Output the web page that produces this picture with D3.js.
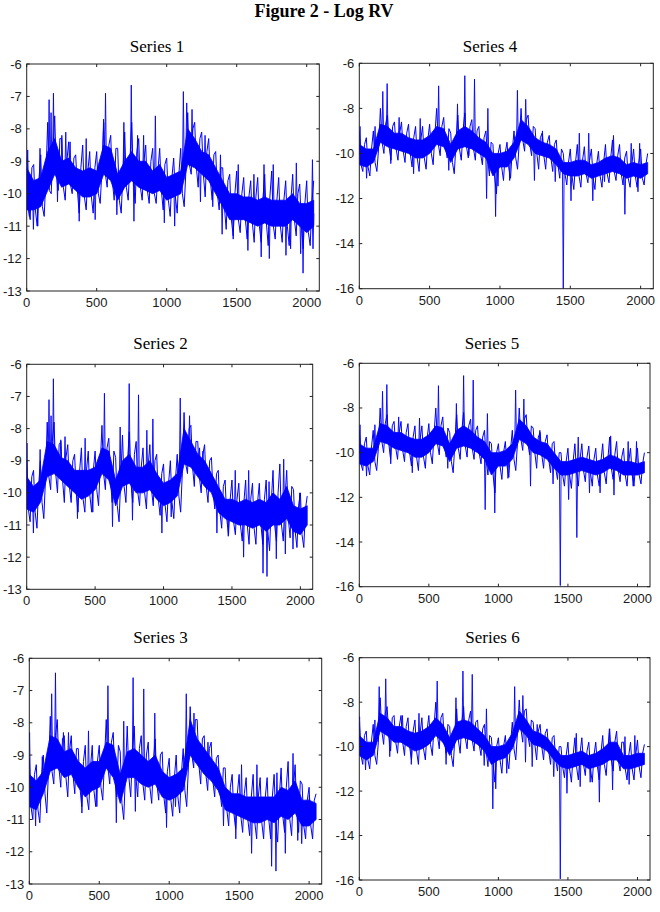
<!DOCTYPE html>
<html>
<head>
<meta charset="utf-8">
<script src="https://cdn.jsdelivr.net/npm/d3@7"></script>
<style>
  html, body { margin: 0; padding: 0; background: #fff; }
  svg { display: block; }
</style>
</head>
<body>
<svg id="chart" width="660" height="912"></svg>
<script>
// ---------------- DATA ----------------
const figureTitle = "Figure 2 - Log RV";
const seriesNames = ["Series 1", "Series 2", "Series 3", "Series 4", "Series 5", "Series 6"];
const xTicks = [0, 500, 1000, 1500, 2000];
const yTicksA = [-13, -12, -11, -10, -9, -8, -7, -6];
const yTicksB = [-16, -14, -12, -10, -8, -6];
// time positions of the band readings
const coreT = [0,50,100,150,200,250,300,350,400,450,500,550,600,650,700,750,800,850,900,950,
               1000,1050,1100,1150,1200,1250,1300,1350,1400,1450,1500,1550,1600,1650,1700,1750,
               1800,1850,1900,1950,2000,2050];

// Series 1 : dense core (lo/hi), fringe of frequent moves (up/dn), isolated spikes
const s1Lo = [-10.5,-10.5,-10.4,-9.9,-9.4,-9.8,-9.7,-9.9,-10.1,-10.1,-10.0,-9.4,-9.6,-10.2,-9.8,-9.6,-9.8,-9.9,-10.0,-9.9,
              -10.2,-10.1,-10.0,-9.1,-9.2,-9.4,-9.6,-10.0,-10.4,-10.8,-10.8,-10.8,-10.9,-11.0,-10.9,-11.0,-11.0,-11.0,-10.8,-11.0,-11.2,-11.0];
const s1Hi = [-9.2,-9.6,-9.5,-8.7,-8.3,-9.0,-8.9,-9.2,-9.3,-9.2,-9.3,-8.5,-8.6,-9.4,-9.0,-8.7,-9.0,-9.0,-9.3,-9.1,
              -9.5,-9.4,-9.3,-8.0,-8.3,-8.7,-8.8,-9.2,-9.6,-10.0,-10.0,-10.1,-10.1,-10.2,-10.1,-10.2,-10.2,-10.2,-10.0,-10.3,-10.3,-10.2];
const s1Up = [-8.9,-9.1,-8.8,-7.8,-7.6,-8.3,-8.4,-8.8,-8.5,-8.7,-8.7,-7.8,-8.2,-8.6,-8.1,-7.8,-8.3,-8.5,-8.6,-8.6,
              -8.9,-8.9,-8.6,-7.5,-7.8,-8.1,-8.3,-8.7,-9.2,-9.4,-9.3,-9.5,-9.6,-9.5,-9.4,-9.3,-9.5,-9.6,-9.4,-9.7,-9.6,-9.6];
const s1Dn = [-10.8,-11.0,-10.7,-10.0,-9.9,-10.2,-10.0,-10.6,-10.5,-10.6,-10.3,-9.8,-10.2,-10.6,-10.2,-10.3,-10.2,-10.3,-10.3,-10.5,
              -10.7,-10.6,-10.4,-9.4,-9.8,-10.1,-10.2,-10.5,-11.1,-11.3,-11.2,-11.4,-11.5,-11.5,-11.6,-11.4,-11.5,-11.6,-11.3,-11.7,-11.6,-11.4];
const s1Spikes = [[7,-8.65],[19,-10.7],[48,-11.1],[79,-11.0],[95,-8.6],[160,-7.1],[174,-7.5],[191,-6.9],[220,-10.25],[251,-8.2],
  [279,-8.1],[310,-8.4],[375,-10.85],[425,-8.3],[489,-10.8],[549,-7.7],[563,-6.9],[644,-10.65],[694,-7.8],[747,-6.65],
  [766,-10.85],[792,-8.2],[835,-8.2],[919,-7.6],[983,-10.9],[1057,-11.0],[1119,-6.85],[1143,-7.2],[1181,-7.4],[1241,-10.25],
  [1274,-8.2],[1329,-10.4],[1384,-8.8],[1396,-11.25],[1475,-11.4],[1511,-9.1],[1580,-11.75],[1623,-9.4],[1675,-11.95],[1695,-9.1],
  [1733,-12.0],[1761,-9.1],[1852,-11.9],[1885,-11.7],[1926,-9.05],[1957,-11.85],[1974,-12.45],[2041,-8.95],[2045,-11.7]];

// Series 2
const s2Lo = [-10.5,-10.6,-10.3,-9.5,-9.4,-9.6,-9.8,-10.0,-10.2,-10.1,-9.9,-9.4,-9.6,-10.4,-9.8,-9.7,-10.0,-10.0,-9.9,-10.2,
              -10.4,-10.3,-10.1,-9.1,-9.2,-9.5,-9.8,-10.0,-10.6,-10.8,-10.9,-11.0,-11.0,-11.1,-11.0,-11.2,-11.0,-11.0,-10.8,-11.2,-11.3,-11.0];
const s2Hi = [-9.5,-9.8,-9.6,-8.4,-8.5,-8.9,-9.0,-9.3,-9.3,-9.3,-9.2,-8.6,-8.7,-9.6,-9.0,-8.8,-9.2,-9.2,-9.0,-9.4,
              -9.7,-9.6,-9.4,-8.0,-8.4,-8.8,-9.0,-9.4,-9.8,-10.2,-10.2,-10.3,-10.2,-10.3,-10.2,-10.3,-10.0,-10.2,-9.8,-10.4,-10.5,-10.4];
const s2Up = [-9.0,-9.3,-9.0,-7.8,-7.8,-8.4,-8.5,-8.8,-8.6,-8.7,-8.7,-7.9,-8.3,-8.9,-8.2,-8.1,-8.4,-8.6,-8.5,-8.8,
              -9.1,-9.0,-8.8,-7.5,-7.9,-8.4,-8.5,-8.9,-9.3,-9.6,-9.6,-9.7,-9.6,-9.7,-9.7,-9.6,-9.3,-9.1,-9.3,-9.9,-10.0,-10.1];
const s2Dn = [-10.9,-11.1,-10.8,-9.9,-10.0,-10.3,-10.3,-10.6,-10.6,-10.6,-10.4,-9.9,-10.3,-10.9,-10.3,-10.3,-10.4,-10.5,-10.4,-10.7,
              -10.9,-10.8,-10.6,-9.4,-9.8,-10.0,-10.3,-10.5,-11.1,-11.3,-11.3,-11.5,-11.6,-11.6,-11.6,-11.8,-11.5,-11.5,-11.4,-11.7,-11.7,-11.3];
const s2Spikes = [[2,-8.45],[49,-11.25],[98,-8.65],[163,-7.1],[178,-7.6],[195,-6.45],[249,-8.35],[280,-8.25],[371,-10.8],[427,-8.3],
  [483,-10.6],[568,-6.9],[627,-11.05],[683,-7.95],[749,-6.6],[773,-10.85],[817,-6.95],[878,-8.05],[922,-7.7],[988,-11.25],
  [1056,-10.75],[1122,-7.05],[1190,-7.6],[1263,-8.6],[1288,-8.7],[1390,-11.25],[1473,-11.35],[1524,-9.3],[1585,-12.0],[1622,-9.3],
  [1727,-12.5],[1756,-12.6],[1771,-9.65],[1824,-12.05],[1878,-8.95],[1890,-11.9],[1946,-11.75],[1995,-10.0]];

// Series 3
const s3Lo = [-10.6,-10.7,-10.2,-9.5,-9.4,-9.7,-9.6,-10.0,-10.3,-10.1,-10.0,-9.4,-9.7,-10.5,-9.7,-9.7,-9.9,-10.0,-9.9,-10.3,
              -10.4,-10.3,-10.1,-9.0,-9.3,-9.6,-9.8,-10.1,-10.7,-10.8,-10.9,-11.0,-11.1,-11.1,-11.0,-11.1,-10.9,-11.0,-10.8,-11.2,-11.2,-11.0];
const s3Hi = [-9.6,-9.8,-9.5,-8.4,-8.5,-8.9,-8.8,-9.2,-9.4,-9.2,-9.2,-8.6,-8.7,-9.6,-8.9,-8.8,-9.0,-9.2,-9.0,-9.5,
              -9.7,-9.6,-9.4,-7.9,-8.5,-8.8,-9.1,-9.4,-10.0,-10.2,-10.2,-10.3,-10.3,-10.3,-10.3,-10.3,-10.0,-10.1,-9.8,-10.4,-10.4,-10.5];
const s3Up = [-9.1,-9.3,-9.0,-7.8,-7.9,-8.4,-8.4,-8.8,-8.7,-8.7,-8.7,-7.9,-8.3,-8.9,-8.1,-8.1,-8.4,-8.6,-8.5,-8.9,
              -9.1,-9.0,-8.8,-7.5,-7.9,-8.4,-8.6,-9.0,-9.4,-9.6,-9.6,-9.7,-9.6,-9.7,-9.7,-9.6,-9.4,-9.2,-9.3,-9.9,-10.0,-10.2];
const s3Dn = [-11.0,-11.1,-10.8,-9.9,-10.0,-10.3,-10.2,-10.6,-10.7,-10.6,-10.4,-9.9,-10.3,-11.0,-10.3,-10.3,-10.4,-10.5,-10.4,-10.8,
              -10.9,-10.8,-10.6,-9.4,-9.9,-10.1,-10.3,-10.6,-11.2,-11.3,-11.4,-11.5,-11.6,-11.6,-11.6,-11.7,-11.4,-11.5,-11.4,-11.6,-11.6,-11.3];
const s3Spikes = [[2,-8.3],[45,-11.2],[93,-9.05],[160,-7.1],[187,-6.45],[244,-8.3],[280,-8.3],[376,-10.8],[423,-8.25],[483,-10.6],
  [562,-6.85],[622,-11.1],[675,-7.95],[742,-6.6],[758,-10.75],[818,-6.95],[897,-7.7],[981,-11.25],[1045,-10.6],[1122,-7.1],
  [1177,-7.7],[1277,-8.6],[1388,-11.2],[1476,-11.6],[1517,-9.3],[1589,-12.05],[1627,-9.3],[1732,-12.45],[1763,-12.6],[1770,-9.55],
  [1830,-12.05],[1885,-8.95],[1919,-11.65],[1947,-11.75],[2002,-10.25]];

// Series 4
const s4Lo = [-10.5,-10.6,-10.4,-9.5,-9.7,-9.8,-9.9,-10.0,-10.2,-10.2,-10.0,-9.6,-9.7,-10.4,-9.8,-9.7,-9.8,-10.0,-10.2,-11.0,
              -10.6,-10.6,-10.2,-9.4,-9.6,-10.0,-10.1,-10.2,-10.5,-10.9,-11.0,-11.0,-10.9,-11.1,-11.0,-10.9,-10.8,-10.9,-11.1,-11.0,-11.1,-10.9];
const s4Hi = [-9.6,-9.8,-9.8,-8.7,-8.8,-9.1,-9.1,-9.3,-9.4,-9.4,-9.2,-8.8,-8.9,-9.6,-9.0,-8.8,-9.0,-9.3,-9.5,-10.0,
              -10.0,-9.9,-9.5,-8.5,-8.8,-9.3,-9.5,-9.6,-9.8,-10.4,-10.4,-10.3,-10.3,-10.5,-10.4,-10.2,-10.1,-10.2,-10.5,-10.4,-10.5,-10.4];
const s4Up = [-9.0,-9.3,-9.0,-8.0,-8.3,-8.6,-8.6,-8.7,-8.8,-8.8,-8.7,-8.0,-8.4,-9.1,-8.3,-8.2,-8.5,-8.8,-9.0,-9.6,
              -9.6,-9.5,-9.0,-8.0,-8.3,-8.9,-9.1,-9.2,-9.4,-10.0,-9.8,-9.6,-9.7,-9.8,-9.9,-9.6,-9.4,-9.6,-9.9,-9.8,-9.8,-10.0];
const s4Dn = [-10.8,-11.0,-10.8,-10.0,-10.3,-10.3,-10.4,-10.6,-10.8,-10.7,-10.5,-10.1,-10.2,-10.9,-10.3,-10.2,-10.3,-10.5,-11.0,-11.8,
              -11.2,-11.1,-10.7,-9.9,-10.1,-10.7,-10.7,-10.8,-11.1,-11.4,-11.6,-11.5,-11.3,-11.6,-11.5,-11.3,-11.2,-11.4,-11.5,-11.5,-11.4,-11.1];
const s4Spikes = [[5,-8.8],[52,-11.1],[112,-8.8],[167,-7.25],[198,-6.9],[224,-10.45],[283,-8.4],[386,-10.9],[433,-8.45],[564,-7.0],
  [636,-10.75],[698,-7.8],[750,-6.55],[779,-10.1],[819,-6.7],[905,-12.0],[914,-8.0],[969,-12.8],[986,-11.45],[1069,-11.2],
  [1124,-7.2],[1183,-7.6],[1231,-9.2],[1245,-11.2],[1302,-9.0],[1393,-11.25],[1450,-16.0],[1505,-12.1],[1564,-9.1],[1631,-9.1],
  [1660,-12.1],[1743,-11.25],[1807,-9.2],[1888,-12.7],[1933,-9.55],[1981,-11.7],[1993,-9.55]];

// Series 5
const s5Lo = [-10.5,-10.6,-10.4,-9.5,-9.6,-9.8,-9.9,-10.0,-10.2,-10.2,-10.0,-9.6,-9.7,-10.4,-9.8,-9.7,-9.8,-10.0,-10.3,-11.0,
              -10.6,-10.6,-10.3,-9.4,-9.6,-10.0,-10.1,-10.3,-10.7,-11.0,-11.0,-10.9,-10.8,-10.9,-11.0,-10.9,-10.7,-10.8,-11.0,-11.0,-11.0,-10.9];
const s5Hi = [-9.6,-9.8,-9.8,-8.7,-8.8,-9.1,-9.1,-9.3,-9.4,-9.4,-9.2,-8.8,-8.9,-9.6,-9.0,-8.8,-9.0,-9.3,-9.5,-10.0,
              -10.0,-9.9,-9.6,-8.5,-8.8,-9.3,-9.5,-9.6,-10.0,-10.4,-10.4,-10.3,-10.2,-10.3,-10.4,-10.3,-10.1,-10.2,-10.4,-10.4,-10.5,-10.4];
const s5Up = [-9.0,-9.3,-9.0,-8.0,-8.3,-8.6,-8.6,-8.7,-8.8,-8.8,-8.7,-8.0,-8.4,-9.1,-8.3,-8.2,-8.5,-8.8,-9.0,-9.6,
              -9.6,-9.5,-9.0,-8.0,-8.3,-8.9,-9.1,-9.2,-9.5,-10.0,-9.8,-9.6,-9.6,-9.7,-9.8,-9.6,-9.3,-9.5,-9.8,-9.8,-9.8,-10.0];
const s5Dn = [-10.8,-11.0,-10.8,-10.0,-10.3,-10.3,-10.4,-10.6,-10.8,-10.7,-10.5,-10.1,-10.2,-10.9,-10.3,-10.2,-10.3,-10.5,-11.0,-11.8,
              -11.2,-11.1,-10.8,-9.9,-10.1,-10.7,-10.7,-10.9,-11.2,-11.5,-11.6,-11.5,-11.3,-11.5,-11.5,-11.4,-11.2,-11.3,-11.5,-11.5,-11.4,-11.1];
const s5Spikes = [[5,-8.75],[52,-11.05],[112,-8.75],[167,-7.25],[198,-6.95],[226,-10.5],[283,-8.4],[381,-10.9],[433,-8.45],[569,-7.0],
  [636,-10.7],[698,-7.8],[750,-6.55],[819,-6.75],[905,-12.55],[921,-8.25],[974,-12.7],[1069,-11.15],[1124,-7.2],[1183,-7.6],
  [1231,-11.5],[1298,-9.0],[1393,-11.4],[1445,-15.95],[1505,-12.1],[1564,-13.8],[1574,-9.3],[1655,-11.8],[1731,-11.8],[1807,-9.25],
  [1831,-11.9],[1933,-9.5],[1969,-11.5],[1993,-9.5]];

// Series 6
const s6Lo = [-10.4,-10.6,-10.4,-9.3,-9.5,-9.8,-9.8,-10.0,-10.2,-10.1,-9.9,-9.5,-9.8,-10.4,-9.7,-9.6,-9.7,-9.9,-10.2,-10.8,
              -10.6,-10.5,-10.1,-9.2,-9.5,-9.9,-10.0,-10.2,-10.6,-10.9,-11.0,-10.9,-10.8,-11.0,-10.9,-10.8,-10.6,-10.6,-11.0,-11.0,-10.9,-10.8];
const s6Hi = [-9.5,-9.8,-9.8,-8.5,-8.7,-9.1,-9.1,-9.3,-9.4,-9.3,-9.1,-8.7,-9.0,-9.6,-8.9,-8.8,-8.9,-9.2,-9.5,-10.0,
              -10.0,-9.9,-9.4,-8.4,-8.8,-9.3,-9.4,-9.6,-10.0,-10.4,-10.4,-10.3,-10.2,-10.4,-10.3,-10.1,-9.8,-9.8,-10.4,-10.4,-10.3,-10.3];
const s6Up = [-8.9,-9.3,-9.0,-7.8,-8.2,-8.6,-8.6,-8.7,-8.8,-8.7,-8.6,-8.0,-8.5,-9.1,-8.3,-8.2,-8.4,-8.8,-9.0,-9.6,
              -9.6,-9.5,-8.9,-7.9,-8.3,-8.9,-9.0,-9.2,-9.5,-10.0,-9.8,-9.6,-9.6,-9.8,-9.8,-9.5,-9.2,-9.3,-9.8,-9.8,-9.7,-9.9];
const s6Dn = [-10.8,-11.0,-10.8,-9.9,-10.2,-10.3,-10.4,-10.6,-10.8,-10.6,-10.4,-10.1,-10.3,-10.9,-10.3,-10.1,-10.2,-10.4,-10.9,-11.6,
              -11.2,-11.0,-10.6,-9.8,-10.0,-10.6,-10.6,-10.8,-11.1,-11.4,-11.6,-11.5,-11.3,-11.6,-11.5,-11.3,-11.1,-11.1,-11.5,-11.5,-11.4,-11.1];
const s6Spikes = [[2,-8.65],[45,-11.05],[112,-8.8],[143,-7.3],[190,-6.95],[219,-10.45],[310,-8.6],[374,-10.8],[429,-8.5],[560,-7.05],
  [624,-10.8],[695,-7.8],[745,-6.6],[812,-6.75],[898,-10.85],[914,-8.3],[960,-12.8],[981,-11.9],[1060,-11.2],[1117,-7.3],
  [1176,-7.7],[1195,-10.7],[1243,-10.9],[1279,-9.0],[1398,-11.35],[1445,-15.95],[1493,-12.1],[1560,-9.4],[1588,-11.8],[1660,-11.6],
  [1726,-12.5],[1798,-9.2],[1821,-11.95],[1910,-9.55],[1940,-11.7],[1981,-9.5]];

// ---------------- LAYOUT ----------------
const panels = [
  {name: seriesNames[0], lo: s1Lo, hi: s1Hi, up: s1Up, dn: s1Dn, spikes: s1Spikes, yTicks: yTicksA, box: {x0: 26.7, x1: 319.3, y0: 64, y1: 291}, tx: 157, ty: 52},
  {name: seriesNames[1], lo: s2Lo, hi: s2Hi, up: s2Up, dn: s2Dn, spikes: s2Spikes, yTicks: yTicksA, box: {x0: 26.7, x1: 312.7, y0: 364.3, y1: 589.3}, tx: 160.5, ty: 349},
  {name: seriesNames[2], lo: s3Lo, hi: s3Hi, up: s3Up, dn: s3Dn, spikes: s3Spikes, yTicks: yTicksA, box: {x0: 29.3, x1: 321.7, y0: 658.3, y1: 884}, tx: 160.5, ty: 643},
  {name: seriesNames[3], lo: s4Lo, hi: s4Hi, up: s4Up, dn: s4Dn, spikes: s4Spikes, yTicks: yTicksB, box: {x0: 359.3, x1: 653.3, y0: 63.3, y1: 288.7}, tx: 490, ty: 52},
  {name: seriesNames[4], lo: s5Lo, hi: s5Hi, up: s5Up, dn: s5Dn, spikes: s5Spikes, yTicks: yTicksB, box: {x0: 359.3, x1: 650, y0: 363.3, y1: 586.7}, tx: 492, ty: 349},
  {name: seriesNames[5], lo: s6Lo, hi: s6Hi, up: s6Up, dn: s6Dn, spikes: s6Spikes, yTicks: yTicksB, box: {x0: 359.3, x1: 650, y0: 657.7, y1: 880}, tx: 492.5, ty: 643}
];

const svg = d3.select("#chart");
const BLUE = "#0000ff";

svg.append("text")
  .attr("x", 324).attr("y", 17)
  .attr("text-anchor", "middle")
  .style("font-family", "'Liberation Serif', 'Times New Roman', serif")
  .style("font-weight", "bold")
  .style("font-size", "18px")
  .attr("fill", "#000")
  .text(figureTitle);

panels.forEach((p, i) => {
  const b = p.box;
  const x = d3.scaleLinear().domain([0, 2090]).range([b.x0, b.x1]);
  const y = d3.scaleLinear().domain([p.yTicks[0], p.yTicks[p.yTicks.length - 1]]).range([b.y1, b.y0]);
  const g = svg.append("g");

  const clipId = "clip" + i;
  svg.append("clipPath").attr("id", clipId)
    .append("rect").attr("x", b.x0).attr("y", b.y0).attr("width", b.x1 - b.x0).attr("height", b.y1 - b.y0);

  const plot = g.append("g").attr("clip-path", `url(#${clipId})`);

  // fringe: line alternating between upper and lower extents of the frequent moves
  const fringe = [];
  coreT.forEach((t, k) => {
    fringe.push([t, p.up[k]]);
    fringe.push([t + 12, p.lo[k]]);
    fringe.push([t + 25, p.dn[k]]);
    fringe.push([t + 37, p.hi[k]]);
  });
  plot.append("path").datum(fringe.filter(d => d[0] <= 2060))
    .attr("d", d3.line().x(d => x(d[0])).y(d => y(d[1])))
    .attr("fill", "none").attr("stroke", BLUE).attr("stroke-width", 1);

  const core = coreT.map((t, k) => ({t, lo: p.lo[k], hi: p.hi[k]}));
  const area = d3.area().x(d => x(d.t)).y0(d => y(d.lo)).y1(d => y(d.hi));
  plot.append("path").datum(core).attr("d", area)
    .attr("fill", BLUE).attr("stroke", BLUE).attr("stroke-width", 0.8);

  const loAt = d3.scaleLinear().domain(coreT).range(p.lo);
  const hiAt = d3.scaleLinear().domain(coreT).range(p.hi);
  const midAt = t => (loAt(t) + hiAt(t)) / 2;
  plot.selectAll("path.spike").data(p.spikes).enter().append("path")
    .attr("class", "spike")
    .attr("d", d => {
      const m = y(midAt(d[0]));
      return `M${x(d[0] - 6)},${m}L${x(d[0])},${y(d[1])}L${x(d[0] + 6)},${m}`;
    })
    .attr("fill", "none")
    .attr("stroke", BLUE).attr("stroke-width", 0.9);

  // frame
  g.append("rect").attr("x", b.x0).attr("y", b.y0)
    .attr("width", b.x1 - b.x0).attr("height", b.y1 - b.y0)
    .attr("fill", "none").attr("stroke", "#222").attr("stroke-width", 1);

  const tl = 3;
  xTicks.forEach(v => {
    g.append("line").attr("x1", x(v)).attr("x2", x(v)).attr("y1", b.y1).attr("y2", b.y1 - tl).attr("stroke", "#222");
    g.append("line").attr("x1", x(v)).attr("x2", x(v)).attr("y1", b.y0).attr("y2", b.y0 + tl).attr("stroke", "#222");
    g.append("text").attr("x", x(v)).attr("y", b.y1 + 16)
      .attr("text-anchor", "middle")
      .style("font-family", "'Liberation Sans', Arial, sans-serif")
      .style("font-size", "13px").attr("fill", "#1a1a1a")
      .text(v);
  });
  p.yTicks.forEach(v => {
    g.append("line").attr("x1", b.x0).attr("x2", b.x0 + tl).attr("y1", y(v)).attr("y2", y(v)).attr("stroke", "#222");
    g.append("line").attr("x1", b.x1).attr("x2", b.x1 - tl).attr("y1", y(v)).attr("y2", y(v)).attr("stroke", "#222");
    g.append("text").attr("x", b.x0 - 5).attr("y", y(v))
      .attr("text-anchor", "end").attr("dominant-baseline", "central")
      .style("font-family", "'Liberation Sans', Arial, sans-serif")
      .style("font-size", "13px").attr("fill", "#1a1a1a")
      .text(v);
  });

  g.append("text").attr("x", p.tx).attr("y", p.ty)
    .attr("text-anchor", "middle")
    .style("font-family", "'Liberation Serif', 'Times New Roman', serif")
    .style("font-size", "17px").attr("fill", "#000")
    .text(p.name);
});
</script>
</body>
</html>
